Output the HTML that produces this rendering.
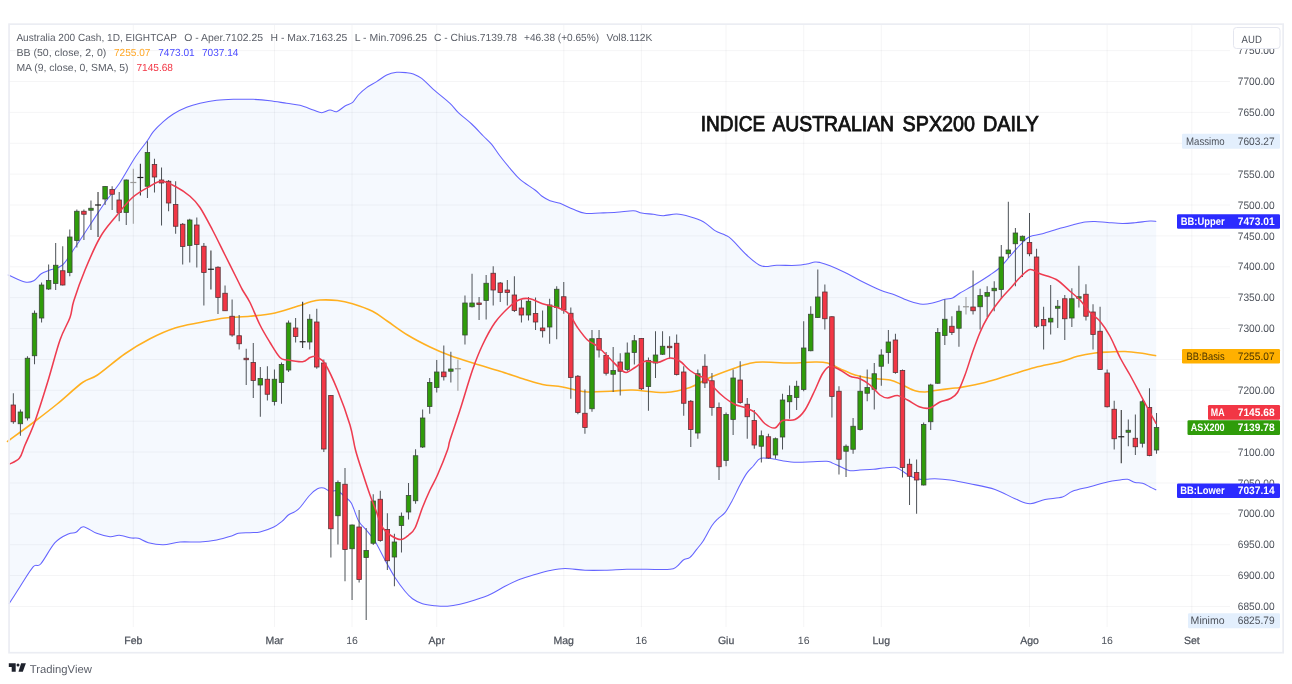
<!DOCTYPE html>
<html><head><meta charset="utf-8"><title>Chart</title>
<style>html,body{margin:0;padding:0;background:#fff}svg{display:block;will-change:transform}text{text-rendering:geometricPrecision}</style></head>
<body>
<svg width="1292" height="684" viewBox="0 0 1292 684" font-family='"Liberation Sans", sans-serif'>
<rect width="1292" height="684" fill="#fff"/>
<path d="M9.20,275.37 C9.25,275.40 6.87,274.40 9.50,275.50 C12.13,276.60 20.96,281.12 25.00,282.00 C29.04,282.88 31.04,282.12 33.75,280.75 C36.46,279.38 38.54,275.54 41.25,273.75 C43.96,271.96 46.46,271.46 50.00,270.00 C53.54,268.54 58.33,268.75 62.50,265.00 C66.67,261.25 70.42,254.17 75.00,247.50 C79.58,240.83 85.00,232.50 90.00,225.00 C95.00,217.50 100.00,209.58 105.00,202.50 C110.00,195.42 115.00,190.00 120.00,182.50 C125.00,175.00 130.42,164.50 135.00,157.50 C139.58,150.50 144.44,144.81 147.50,140.50 C150.56,136.19 150.69,134.81 153.33,131.67 C155.97,128.53 160.00,124.61 163.33,121.67 C166.67,118.72 169.44,116.39 173.33,114.00 C177.22,111.61 182.22,109.11 186.67,107.33 C191.11,105.56 195.00,104.50 200.00,103.33 C205.00,102.17 211.11,101.00 216.67,100.33 C222.22,99.67 227.22,99.50 233.33,99.33 C239.44,99.17 247.22,99.11 253.33,99.33 C259.44,99.56 264.44,100.00 270.00,100.67 C275.56,101.33 281.67,102.56 286.67,103.33 C291.67,104.11 295.56,104.22 300.00,105.33 C304.44,106.44 309.72,108.78 313.33,110.00 C316.94,111.22 318.89,112.67 321.67,112.67 C324.44,112.67 327.50,110.17 330.00,110.00 C332.50,109.83 334.17,112.33 336.67,111.67 C339.17,111.00 342.33,107.56 345.00,106.00 C347.67,104.44 350.44,104.17 352.67,102.33 C354.89,100.50 356.00,97.44 358.33,95.00 C360.67,92.56 363.61,89.89 366.67,87.67 C369.72,85.44 373.33,83.78 376.67,81.67 C380.00,79.56 383.33,76.56 386.67,75.00 C390.00,73.44 393.33,72.72 396.67,72.33 C400.00,71.94 403.89,72.39 406.67,72.67 C409.44,72.94 410.83,73.06 413.33,74.00 C415.83,74.94 418.33,75.78 421.67,78.33 C425.00,80.89 428.61,85.17 433.33,89.33 C438.06,93.50 445.83,99.44 450.00,103.33 C454.17,107.22 454.72,109.22 458.33,112.67 C461.94,116.11 467.50,120.11 471.67,124.00 C475.83,127.89 480.00,132.61 483.33,136.00 C486.67,139.39 488.89,141.00 491.67,144.33 C494.44,147.67 496.94,152.00 500.00,156.00 C503.06,160.00 506.67,164.44 510.00,168.33 C513.33,172.22 515.83,175.72 520.00,179.33 C524.17,182.94 531.39,187.22 535.00,190.00 C538.61,192.78 539.17,194.22 541.67,196.00 C544.17,197.78 546.94,199.44 550.00,200.67 C553.06,201.89 556.11,201.89 560.00,203.33 C563.89,204.78 569.17,207.67 573.33,209.33 C577.50,211.00 580.56,212.72 585.00,213.33 C589.44,213.94 594.72,213.17 600.00,213.00 C605.28,212.83 611.11,212.72 616.67,212.33 C622.22,211.94 629.17,210.56 633.33,210.67 C637.50,210.78 638.33,212.39 641.67,213.00 C645.00,213.61 649.72,213.89 653.33,214.33 C656.94,214.78 659.44,215.72 663.33,215.67 C667.22,215.61 672.22,213.83 676.67,214.00 C681.11,214.17 685.56,215.39 690.00,216.67 C694.44,217.94 699.17,219.33 703.33,221.67 C707.50,224.00 711.39,228.44 715.00,230.67 C718.61,232.89 722.22,233.56 725.00,235.00 C727.78,236.44 728.06,236.00 731.67,239.33 C735.28,242.67 741.67,250.56 746.67,255.00 C751.67,259.44 756.67,264.28 761.67,266.00 C766.67,267.72 770.83,265.44 776.67,265.33 C782.50,265.22 791.67,265.56 796.67,265.33 C801.67,265.11 803.61,264.56 806.67,264.00 C809.72,263.44 812.78,262.25 815.00,262.00 C817.22,261.75 817.50,261.88 820.00,262.50 C822.50,263.12 825.83,264.08 830.00,265.75 C834.17,267.42 840.00,270.04 845.00,272.50 C850.00,274.96 854.17,277.58 860.00,280.50 C865.83,283.42 874.17,287.58 880.00,290.00 C885.83,292.42 890.00,293.12 895.00,295.00 C900.00,296.88 905.42,299.71 910.00,301.25 C914.58,302.79 918.75,303.96 922.50,304.25 C926.25,304.54 928.75,303.83 932.50,303.00 C936.25,302.17 941.67,300.08 945.00,299.25 C948.33,298.42 950.00,299.04 952.50,298.00 C955.00,296.96 956.25,295.25 960.00,293.00 C963.75,290.75 970.00,287.50 975.00,284.50 C980.00,281.50 985.83,277.83 990.00,275.00 C994.17,272.17 996.67,270.62 1000.00,267.50 C1003.33,264.38 1006.67,260.00 1010.00,256.25 C1013.33,252.50 1016.75,248.25 1020.00,245.00 C1023.25,241.75 1025.75,238.62 1029.50,236.75 C1033.25,234.88 1037.42,235.17 1042.50,233.75 C1047.58,232.33 1055.00,229.71 1060.00,228.25 C1065.00,226.79 1068.33,226.04 1072.50,225.00 C1076.67,223.96 1081.25,222.58 1085.00,222.00 C1088.75,221.42 1091.25,221.42 1095.00,221.50 C1098.75,221.58 1102.92,222.17 1107.50,222.50 C1112.08,222.83 1117.92,223.46 1122.50,223.50 C1127.08,223.54 1130.42,223.17 1135.00,222.75 C1139.58,222.33 1146.46,221.21 1150.00,221.00 C1153.54,220.79 1155.21,221.42 1156.25,221.50 L1156.25,490.00 C1155.21,489.50 1152.29,488.12 1150.00,487.00 C1147.71,485.88 1145.00,484.00 1142.50,483.25 C1140.00,482.50 1137.50,483.17 1135.00,482.50 C1132.50,481.83 1130.00,479.67 1127.50,479.25 C1125.00,478.83 1123.33,479.54 1120.00,480.00 C1116.67,480.46 1112.50,480.88 1107.50,482.00 C1102.50,483.12 1095.83,485.21 1090.00,486.75 C1084.17,488.29 1077.08,489.54 1072.50,491.25 C1067.92,492.96 1067.08,495.62 1062.50,497.00 C1057.92,498.38 1050.42,498.38 1045.00,499.50 C1039.58,500.62 1035.00,503.88 1030.00,503.75 C1025.00,503.62 1020.83,501.12 1015.00,498.75 C1009.17,496.38 1002.50,492.00 995.00,489.50 C987.50,487.00 977.50,485.33 970.00,483.75 C962.50,482.17 955.83,480.83 950.00,480.00 C944.17,479.17 938.89,478.86 935.00,478.75 C931.11,478.64 929.17,479.24 926.67,479.33 C924.17,479.43 922.78,479.89 920.00,479.33 C917.22,478.78 913.06,477.44 910.00,476.00 C906.94,474.56 904.17,472.11 901.67,470.67 C899.17,469.22 898.06,467.78 895.00,467.33 C891.94,466.89 886.94,467.67 883.33,468.00 C879.72,468.33 877.22,469.00 873.33,469.33 C869.44,469.67 863.89,469.78 860.00,470.00 C856.11,470.22 853.06,471.11 850.00,470.67 C846.94,470.22 844.72,468.67 841.67,467.33 C838.61,466.00 834.17,463.67 831.67,462.67 C829.17,461.67 829.72,461.50 826.67,461.33 C823.61,461.17 818.33,461.50 813.33,461.67 C808.33,461.83 801.67,462.44 796.67,462.33 C791.67,462.22 787.22,461.56 783.33,461.00 C779.44,460.44 777.11,459.44 773.33,459.00 C769.56,458.56 764.00,457.17 760.67,458.33 C757.33,459.50 755.67,463.50 753.33,466.00 C751.00,468.50 748.89,470.17 746.67,473.33 C744.44,476.50 742.50,480.28 740.00,485.00 C737.50,489.72 734.17,497.06 731.67,501.67 C729.17,506.28 727.22,509.89 725.00,512.67 C722.78,515.44 720.56,516.11 718.33,518.33 C716.11,520.56 714.17,522.28 711.67,526.00 C709.17,529.72 705.83,536.78 703.33,540.67 C700.83,544.56 698.89,546.56 696.67,549.33 C694.44,552.11 692.22,555.56 690.00,557.33 C687.78,559.11 685.56,558.44 683.33,560.00 C681.11,561.56 678.89,565.11 676.67,566.67 C674.44,568.22 675.00,568.89 670.00,569.33 C665.00,569.78 653.89,569.33 646.67,569.33 C639.44,569.33 633.61,569.18 626.67,569.33 C619.72,569.49 611.94,570.10 605.00,570.25 C598.06,570.40 591.67,570.54 585.00,570.25 C578.33,569.96 570.83,568.46 565.00,568.50 C559.17,568.54 555.00,569.50 550.00,570.50 C545.00,571.50 540.00,573.04 535.00,574.50 C530.00,575.96 525.00,577.29 520.00,579.25 C515.00,581.21 510.00,583.71 505.00,586.25 C500.00,588.79 495.00,592.21 490.00,594.50 C485.00,596.79 480.00,598.38 475.00,600.00 C470.00,601.62 464.58,603.21 460.00,604.25 C455.42,605.29 451.67,606.00 447.50,606.25 C443.33,606.50 439.17,606.17 435.00,605.75 C430.83,605.33 426.25,604.92 422.50,603.75 C418.75,602.58 415.42,600.83 412.50,598.75 C409.58,596.67 407.92,594.79 405.00,591.25 C402.08,587.71 398.33,582.71 395.00,577.50 C391.67,572.29 388.33,566.04 385.00,560.00 C381.67,553.96 378.12,546.25 375.00,541.25 C371.88,536.25 368.96,533.33 366.25,530.00 C363.54,526.67 361.25,525.75 358.75,521.25 C356.25,516.75 353.54,507.04 351.25,503.00 C348.96,498.96 347.29,499.04 345.00,497.00 C342.71,494.96 340.00,491.71 337.50,490.75 C335.00,489.79 332.29,491.71 330.00,491.25 C327.71,490.79 325.83,488.42 323.75,488.00 C321.67,487.58 319.79,487.58 317.50,488.75 C315.21,489.92 312.92,491.88 310.00,495.00 C307.08,498.12 302.50,504.72 300.00,507.50 C297.50,510.28 296.94,510.42 295.00,511.67 C293.06,512.92 290.56,513.33 288.33,515.00 C286.11,516.67 284.17,519.61 281.67,521.67 C279.17,523.72 276.94,525.61 273.33,527.33 C269.72,529.06 263.89,531.11 260.00,532.00 C256.11,532.89 253.61,532.44 250.00,532.67 C246.39,532.89 241.39,532.78 238.33,533.33 C235.28,533.89 235.28,534.89 231.67,536.00 C228.06,537.11 221.94,539.00 216.67,540.00 C211.39,541.00 206.11,541.67 200.00,542.00 C193.89,542.33 186.11,541.56 180.00,542.00 C173.89,542.44 168.61,544.56 163.33,544.67 C158.06,544.78 152.50,543.72 148.33,542.67 C144.17,541.61 141.11,539.11 138.33,538.33 C135.56,537.56 134.83,538.50 131.67,538.00 C128.50,537.50 122.94,535.56 119.33,535.33 C115.72,535.11 113.78,537.00 110.00,536.67 C106.22,536.33 101.11,535.00 96.67,533.33 C92.22,531.67 86.78,526.83 83.33,526.67 C79.89,526.50 78.50,531.11 76.00,532.33 C73.50,533.56 71.83,532.28 68.33,534.00 C64.83,535.72 59.61,537.67 55.00,542.67 C50.39,547.67 44.28,560.00 40.67,564.00 C37.06,568.00 36.78,562.89 33.33,566.67 C29.89,570.44 24.06,580.44 20.00,586.67 C15.94,592.89 10.83,601.11 9.00,604.00 Z" fill="#f5f9fe"/>
<rect x="132.80" y="24.5" width="1" height="602.5" fill="#2a2e39" fill-opacity="0.048"/>
<rect x="273.94" y="24.5" width="1" height="602.5" fill="#2a2e39" fill-opacity="0.048"/>
<rect x="351.56" y="24.5" width="1" height="602.5" fill="#2a2e39" fill-opacity="0.048"/>
<rect x="436.24" y="24.5" width="1" height="602.5" fill="#2a2e39" fill-opacity="0.048"/>
<rect x="563.26" y="24.5" width="1" height="602.5" fill="#2a2e39" fill-opacity="0.048"/>
<rect x="640.89" y="24.5" width="1" height="602.5" fill="#2a2e39" fill-opacity="0.048"/>
<rect x="725.57" y="24.5" width="1" height="602.5" fill="#2a2e39" fill-opacity="0.048"/>
<rect x="803.19" y="24.5" width="1" height="602.5" fill="#2a2e39" fill-opacity="0.048"/>
<rect x="880.81" y="24.5" width="1" height="602.5" fill="#2a2e39" fill-opacity="0.048"/>
<rect x="1029.00" y="24.5" width="1" height="602.5" fill="#2a2e39" fill-opacity="0.048"/>
<rect x="1106.63" y="24.5" width="1" height="602.5" fill="#2a2e39" fill-opacity="0.048"/>
<rect x="1191.31" y="24.5" width="1" height="602.5" fill="#2a2e39" fill-opacity="0.048"/>
<rect x="8.5" y="50.12" width="1221.5" height="1" fill="#2a2e39" fill-opacity="0.048"/>
<rect x="8.5" y="81.00" width="1221.5" height="1" fill="#2a2e39" fill-opacity="0.048"/>
<rect x="8.5" y="111.88" width="1221.5" height="1" fill="#2a2e39" fill-opacity="0.048"/>
<rect x="8.5" y="142.76" width="1221.5" height="1" fill="#2a2e39" fill-opacity="0.048"/>
<rect x="8.5" y="173.64" width="1221.5" height="1" fill="#2a2e39" fill-opacity="0.048"/>
<rect x="8.5" y="204.52" width="1221.5" height="1" fill="#2a2e39" fill-opacity="0.048"/>
<rect x="8.5" y="235.40" width="1221.5" height="1" fill="#2a2e39" fill-opacity="0.048"/>
<rect x="8.5" y="266.28" width="1221.5" height="1" fill="#2a2e39" fill-opacity="0.048"/>
<rect x="8.5" y="297.16" width="1221.5" height="1" fill="#2a2e39" fill-opacity="0.048"/>
<rect x="8.5" y="328.04" width="1221.5" height="1" fill="#2a2e39" fill-opacity="0.048"/>
<rect x="8.5" y="358.92" width="1221.5" height="1" fill="#2a2e39" fill-opacity="0.048"/>
<rect x="8.5" y="389.80" width="1221.5" height="1" fill="#2a2e39" fill-opacity="0.048"/>
<rect x="8.5" y="420.68" width="1221.5" height="1" fill="#2a2e39" fill-opacity="0.048"/>
<rect x="8.5" y="451.56" width="1221.5" height="1" fill="#2a2e39" fill-opacity="0.048"/>
<rect x="8.5" y="482.44" width="1221.5" height="1" fill="#2a2e39" fill-opacity="0.048"/>
<rect x="8.5" y="513.32" width="1221.5" height="1" fill="#2a2e39" fill-opacity="0.048"/>
<rect x="8.5" y="544.20" width="1221.5" height="1" fill="#2a2e39" fill-opacity="0.048"/>
<rect x="8.5" y="575.08" width="1221.5" height="1" fill="#2a2e39" fill-opacity="0.048"/>
<rect x="8.5" y="605.96" width="1221.5" height="1" fill="#2a2e39" fill-opacity="0.048"/>
<path d="M9.20,275.37 C9.25,275.40 6.87,274.40 9.50,275.50 C12.13,276.60 20.96,281.12 25.00,282.00 C29.04,282.88 31.04,282.12 33.75,280.75 C36.46,279.38 38.54,275.54 41.25,273.75 C43.96,271.96 46.46,271.46 50.00,270.00 C53.54,268.54 58.33,268.75 62.50,265.00 C66.67,261.25 70.42,254.17 75.00,247.50 C79.58,240.83 85.00,232.50 90.00,225.00 C95.00,217.50 100.00,209.58 105.00,202.50 C110.00,195.42 115.00,190.00 120.00,182.50 C125.00,175.00 130.42,164.50 135.00,157.50 C139.58,150.50 144.44,144.81 147.50,140.50 C150.56,136.19 150.69,134.81 153.33,131.67 C155.97,128.53 160.00,124.61 163.33,121.67 C166.67,118.72 169.44,116.39 173.33,114.00 C177.22,111.61 182.22,109.11 186.67,107.33 C191.11,105.56 195.00,104.50 200.00,103.33 C205.00,102.17 211.11,101.00 216.67,100.33 C222.22,99.67 227.22,99.50 233.33,99.33 C239.44,99.17 247.22,99.11 253.33,99.33 C259.44,99.56 264.44,100.00 270.00,100.67 C275.56,101.33 281.67,102.56 286.67,103.33 C291.67,104.11 295.56,104.22 300.00,105.33 C304.44,106.44 309.72,108.78 313.33,110.00 C316.94,111.22 318.89,112.67 321.67,112.67 C324.44,112.67 327.50,110.17 330.00,110.00 C332.50,109.83 334.17,112.33 336.67,111.67 C339.17,111.00 342.33,107.56 345.00,106.00 C347.67,104.44 350.44,104.17 352.67,102.33 C354.89,100.50 356.00,97.44 358.33,95.00 C360.67,92.56 363.61,89.89 366.67,87.67 C369.72,85.44 373.33,83.78 376.67,81.67 C380.00,79.56 383.33,76.56 386.67,75.00 C390.00,73.44 393.33,72.72 396.67,72.33 C400.00,71.94 403.89,72.39 406.67,72.67 C409.44,72.94 410.83,73.06 413.33,74.00 C415.83,74.94 418.33,75.78 421.67,78.33 C425.00,80.89 428.61,85.17 433.33,89.33 C438.06,93.50 445.83,99.44 450.00,103.33 C454.17,107.22 454.72,109.22 458.33,112.67 C461.94,116.11 467.50,120.11 471.67,124.00 C475.83,127.89 480.00,132.61 483.33,136.00 C486.67,139.39 488.89,141.00 491.67,144.33 C494.44,147.67 496.94,152.00 500.00,156.00 C503.06,160.00 506.67,164.44 510.00,168.33 C513.33,172.22 515.83,175.72 520.00,179.33 C524.17,182.94 531.39,187.22 535.00,190.00 C538.61,192.78 539.17,194.22 541.67,196.00 C544.17,197.78 546.94,199.44 550.00,200.67 C553.06,201.89 556.11,201.89 560.00,203.33 C563.89,204.78 569.17,207.67 573.33,209.33 C577.50,211.00 580.56,212.72 585.00,213.33 C589.44,213.94 594.72,213.17 600.00,213.00 C605.28,212.83 611.11,212.72 616.67,212.33 C622.22,211.94 629.17,210.56 633.33,210.67 C637.50,210.78 638.33,212.39 641.67,213.00 C645.00,213.61 649.72,213.89 653.33,214.33 C656.94,214.78 659.44,215.72 663.33,215.67 C667.22,215.61 672.22,213.83 676.67,214.00 C681.11,214.17 685.56,215.39 690.00,216.67 C694.44,217.94 699.17,219.33 703.33,221.67 C707.50,224.00 711.39,228.44 715.00,230.67 C718.61,232.89 722.22,233.56 725.00,235.00 C727.78,236.44 728.06,236.00 731.67,239.33 C735.28,242.67 741.67,250.56 746.67,255.00 C751.67,259.44 756.67,264.28 761.67,266.00 C766.67,267.72 770.83,265.44 776.67,265.33 C782.50,265.22 791.67,265.56 796.67,265.33 C801.67,265.11 803.61,264.56 806.67,264.00 C809.72,263.44 812.78,262.25 815.00,262.00 C817.22,261.75 817.50,261.88 820.00,262.50 C822.50,263.12 825.83,264.08 830.00,265.75 C834.17,267.42 840.00,270.04 845.00,272.50 C850.00,274.96 854.17,277.58 860.00,280.50 C865.83,283.42 874.17,287.58 880.00,290.00 C885.83,292.42 890.00,293.12 895.00,295.00 C900.00,296.88 905.42,299.71 910.00,301.25 C914.58,302.79 918.75,303.96 922.50,304.25 C926.25,304.54 928.75,303.83 932.50,303.00 C936.25,302.17 941.67,300.08 945.00,299.25 C948.33,298.42 950.00,299.04 952.50,298.00 C955.00,296.96 956.25,295.25 960.00,293.00 C963.75,290.75 970.00,287.50 975.00,284.50 C980.00,281.50 985.83,277.83 990.00,275.00 C994.17,272.17 996.67,270.62 1000.00,267.50 C1003.33,264.38 1006.67,260.00 1010.00,256.25 C1013.33,252.50 1016.75,248.25 1020.00,245.00 C1023.25,241.75 1025.75,238.62 1029.50,236.75 C1033.25,234.88 1037.42,235.17 1042.50,233.75 C1047.58,232.33 1055.00,229.71 1060.00,228.25 C1065.00,226.79 1068.33,226.04 1072.50,225.00 C1076.67,223.96 1081.25,222.58 1085.00,222.00 C1088.75,221.42 1091.25,221.42 1095.00,221.50 C1098.75,221.58 1102.92,222.17 1107.50,222.50 C1112.08,222.83 1117.92,223.46 1122.50,223.50 C1127.08,223.54 1130.42,223.17 1135.00,222.75 C1139.58,222.33 1146.46,221.21 1150.00,221.00 C1153.54,220.79 1155.21,221.42 1156.25,221.50" fill="none" stroke="#6464ff" stroke-width="1.05" stroke-linejoin="round"/>
<path d="M9.00,604.00 C10.83,601.11 15.94,592.89 20.00,586.67 C24.06,580.44 29.89,570.44 33.33,566.67 C36.78,562.89 37.06,568.00 40.67,564.00 C44.28,560.00 50.39,547.67 55.00,542.67 C59.61,537.67 64.83,535.72 68.33,534.00 C71.83,532.28 73.50,533.56 76.00,532.33 C78.50,531.11 79.89,526.50 83.33,526.67 C86.78,526.83 92.22,531.67 96.67,533.33 C101.11,535.00 106.22,536.33 110.00,536.67 C113.78,537.00 115.72,535.11 119.33,535.33 C122.94,535.56 128.50,537.50 131.67,538.00 C134.83,538.50 135.56,537.56 138.33,538.33 C141.11,539.11 144.17,541.61 148.33,542.67 C152.50,543.72 158.06,544.78 163.33,544.67 C168.61,544.56 173.89,542.44 180.00,542.00 C186.11,541.56 193.89,542.33 200.00,542.00 C206.11,541.67 211.39,541.00 216.67,540.00 C221.94,539.00 228.06,537.11 231.67,536.00 C235.28,534.89 235.28,533.89 238.33,533.33 C241.39,532.78 246.39,532.89 250.00,532.67 C253.61,532.44 256.11,532.89 260.00,532.00 C263.89,531.11 269.72,529.06 273.33,527.33 C276.94,525.61 279.17,523.72 281.67,521.67 C284.17,519.61 286.11,516.67 288.33,515.00 C290.56,513.33 293.06,512.92 295.00,511.67 C296.94,510.42 297.50,510.28 300.00,507.50 C302.50,504.72 307.08,498.12 310.00,495.00 C312.92,491.88 315.21,489.92 317.50,488.75 C319.79,487.58 321.67,487.58 323.75,488.00 C325.83,488.42 327.71,490.79 330.00,491.25 C332.29,491.71 335.00,489.79 337.50,490.75 C340.00,491.71 342.71,494.96 345.00,497.00 C347.29,499.04 348.96,498.96 351.25,503.00 C353.54,507.04 356.25,516.75 358.75,521.25 C361.25,525.75 363.54,526.67 366.25,530.00 C368.96,533.33 371.88,536.25 375.00,541.25 C378.12,546.25 381.67,553.96 385.00,560.00 C388.33,566.04 391.67,572.29 395.00,577.50 C398.33,582.71 402.08,587.71 405.00,591.25 C407.92,594.79 409.58,596.67 412.50,598.75 C415.42,600.83 418.75,602.58 422.50,603.75 C426.25,604.92 430.83,605.33 435.00,605.75 C439.17,606.17 443.33,606.50 447.50,606.25 C451.67,606.00 455.42,605.29 460.00,604.25 C464.58,603.21 470.00,601.62 475.00,600.00 C480.00,598.38 485.00,596.79 490.00,594.50 C495.00,592.21 500.00,588.79 505.00,586.25 C510.00,583.71 515.00,581.21 520.00,579.25 C525.00,577.29 530.00,575.96 535.00,574.50 C540.00,573.04 545.00,571.50 550.00,570.50 C555.00,569.50 559.17,568.54 565.00,568.50 C570.83,568.46 578.33,569.96 585.00,570.25 C591.67,570.54 598.06,570.40 605.00,570.25 C611.94,570.10 619.72,569.49 626.67,569.33 C633.61,569.18 639.44,569.33 646.67,569.33 C653.89,569.33 665.00,569.78 670.00,569.33 C675.00,568.89 674.44,568.22 676.67,566.67 C678.89,565.11 681.11,561.56 683.33,560.00 C685.56,558.44 687.78,559.11 690.00,557.33 C692.22,555.56 694.44,552.11 696.67,549.33 C698.89,546.56 700.83,544.56 703.33,540.67 C705.83,536.78 709.17,529.72 711.67,526.00 C714.17,522.28 716.11,520.56 718.33,518.33 C720.56,516.11 722.78,515.44 725.00,512.67 C727.22,509.89 729.17,506.28 731.67,501.67 C734.17,497.06 737.50,489.72 740.00,485.00 C742.50,480.28 744.44,476.50 746.67,473.33 C748.89,470.17 751.00,468.50 753.33,466.00 C755.67,463.50 757.33,459.50 760.67,458.33 C764.00,457.17 769.56,458.56 773.33,459.00 C777.11,459.44 779.44,460.44 783.33,461.00 C787.22,461.56 791.67,462.22 796.67,462.33 C801.67,462.44 808.33,461.83 813.33,461.67 C818.33,461.50 823.61,461.17 826.67,461.33 C829.72,461.50 829.17,461.67 831.67,462.67 C834.17,463.67 838.61,466.00 841.67,467.33 C844.72,468.67 846.94,470.22 850.00,470.67 C853.06,471.11 856.11,470.22 860.00,470.00 C863.89,469.78 869.44,469.67 873.33,469.33 C877.22,469.00 879.72,468.33 883.33,468.00 C886.94,467.67 891.94,466.89 895.00,467.33 C898.06,467.78 899.17,469.22 901.67,470.67 C904.17,472.11 906.94,474.56 910.00,476.00 C913.06,477.44 917.22,478.78 920.00,479.33 C922.78,479.89 924.17,479.43 926.67,479.33 C929.17,479.24 931.11,478.64 935.00,478.75 C938.89,478.86 944.17,479.17 950.00,480.00 C955.83,480.83 962.50,482.17 970.00,483.75 C977.50,485.33 987.50,487.00 995.00,489.50 C1002.50,492.00 1009.17,496.38 1015.00,498.75 C1020.83,501.12 1025.00,503.62 1030.00,503.75 C1035.00,503.88 1039.58,500.62 1045.00,499.50 C1050.42,498.38 1057.92,498.38 1062.50,497.00 C1067.08,495.62 1067.92,492.96 1072.50,491.25 C1077.08,489.54 1084.17,488.29 1090.00,486.75 C1095.83,485.21 1102.50,483.12 1107.50,482.00 C1112.50,480.88 1116.67,480.46 1120.00,480.00 C1123.33,479.54 1125.00,478.83 1127.50,479.25 C1130.00,479.67 1132.50,481.83 1135.00,482.50 C1137.50,483.17 1140.00,482.50 1142.50,483.25 C1145.00,484.00 1147.71,485.88 1150.00,487.00 C1152.29,488.12 1155.21,489.50 1156.25,490.00" fill="none" stroke="#6464ff" stroke-width="1.05" stroke-linejoin="round"/>
<path d="M9.20,440.22 C9.25,440.18 5.20,443.16 9.50,440.00 C13.80,436.84 27.00,427.29 35.00,421.25 C43.00,415.21 49.58,410.21 57.50,403.75 C65.42,397.29 75.83,387.29 82.50,382.50 C89.17,377.71 90.42,379.79 97.50,375.00 C104.58,370.21 116.25,359.79 125.00,353.75 C133.75,347.71 141.67,343.04 150.00,338.75 C158.33,334.46 166.67,330.71 175.00,328.00 C183.33,325.29 191.67,324.17 200.00,322.50 C208.33,320.83 216.67,319.04 225.00,318.00 C233.33,316.96 241.67,317.08 250.00,316.25 C258.33,315.42 266.67,314.79 275.00,313.00 C283.33,311.21 294.17,307.33 300.00,305.50 C305.83,303.67 306.67,302.92 310.00,302.00 C313.33,301.08 315.42,300.25 320.00,300.00 C324.58,299.75 332.08,299.88 337.50,300.50 C342.92,301.12 346.67,301.96 352.50,303.75 C358.33,305.54 366.67,308.33 372.50,311.25 C378.33,314.17 381.67,317.29 387.50,321.25 C393.33,325.21 400.42,330.71 407.50,335.00 C414.58,339.29 422.92,343.58 430.00,347.00 C437.08,350.42 442.50,352.71 450.00,355.50 C457.50,358.29 466.67,361.12 475.00,363.75 C483.33,366.38 491.67,368.62 500.00,371.25 C508.33,373.88 517.92,377.29 525.00,379.50 C532.08,381.71 536.25,383.25 542.50,384.50 C548.75,385.75 555.42,385.79 562.50,387.00 C569.58,388.21 577.08,391.04 585.00,391.75 C592.92,392.46 602.08,391.54 610.00,391.25 C617.92,390.96 623.33,389.79 632.50,390.00 C641.67,390.21 655.42,392.92 665.00,392.50 C674.58,392.08 682.50,390.00 690.00,387.50 C697.50,385.00 702.50,380.75 710.00,377.50 C717.50,374.25 728.33,370.38 735.00,368.00 C741.67,365.62 745.42,364.25 750.00,363.25 C754.58,362.25 755.83,362.04 762.50,362.00 C769.17,361.96 781.25,363.00 790.00,363.00 C798.75,363.00 808.75,362.00 815.00,362.00 C821.25,362.00 823.33,361.88 827.50,363.00 C831.67,364.12 835.42,366.75 840.00,368.75 C844.58,370.75 850.00,373.42 855.00,375.00 C860.00,376.58 864.17,377.42 870.00,378.25 C875.83,379.08 884.58,378.88 890.00,380.00 C895.42,381.12 898.33,383.21 902.50,385.00 C906.67,386.79 911.25,389.58 915.00,390.75 C918.75,391.92 921.67,392.04 925.00,392.00 C928.33,391.96 930.42,391.12 935.00,390.50 C939.58,389.88 948.33,388.75 952.50,388.25 C956.67,387.75 954.58,388.46 960.00,387.50 C965.42,386.54 976.67,384.58 985.00,382.50 C993.33,380.42 1001.67,377.50 1010.00,375.00 C1018.33,372.50 1026.67,369.67 1035.00,367.50 C1043.33,365.33 1052.92,363.88 1060.00,362.00 C1067.08,360.12 1071.67,357.75 1077.50,356.25 C1083.33,354.75 1089.58,353.71 1095.00,353.00 C1100.42,352.29 1105.00,352.25 1110.00,352.00 C1115.00,351.75 1120.00,351.33 1125.00,351.50 C1130.00,351.67 1134.79,352.29 1140.00,353.00 C1145.21,353.71 1153.54,355.29 1156.25,355.75" fill="none" stroke="#ffb020" stroke-width="1.6" stroke-linejoin="round"/>
<rect x="12.84" y="393.25" width="1" height="30.50" fill="#4d5257"/>
<rect x="11.09" y="405.00" width="4.5" height="16.75" fill="#f23645" stroke="#5a3438" stroke-width="0.8"/>
<rect x="19.90" y="409.50" width="1" height="26.25" fill="#4d5257"/>
<rect x="18.15" y="412.00" width="4.5" height="11.75" fill="#2f9c0a" stroke="#3c4a3a" stroke-width="0.8"/>
<rect x="26.95" y="356.25" width="1" height="64.25" fill="#4d5257"/>
<rect x="25.20" y="358.25" width="4.5" height="59.75" fill="#2f9c0a" stroke="#3c4a3a" stroke-width="0.8"/>
<rect x="34.01" y="310.50" width="1" height="53.75" fill="#4d5257"/>
<rect x="32.26" y="313.25" width="4.5" height="42.50" fill="#2f9c0a" stroke="#3c4a3a" stroke-width="0.8"/>
<rect x="41.07" y="282.50" width="1" height="40.00" fill="#4d5257"/>
<rect x="39.32" y="285.00" width="4.5" height="33.00" fill="#2f9c0a" stroke="#3c4a3a" stroke-width="0.8"/>
<rect x="48.12" y="264.50" width="1" height="25.50" fill="#4d5257"/>
<rect x="46.37" y="280.50" width="4.5" height="8.50" fill="#2f9c0a" stroke="#3c4a3a" stroke-width="0.8"/>
<rect x="55.18" y="243.00" width="1" height="47.00" fill="#4d5257"/>
<rect x="53.43" y="265.25" width="4.5" height="18.25" fill="#2f9c0a" stroke="#3c4a3a" stroke-width="0.8"/>
<rect x="62.24" y="246.25" width="1" height="39.25" fill="#4d5257"/>
<rect x="60.49" y="270.75" width="4.5" height="14.25" fill="#f23645" stroke="#5a3438" stroke-width="0.8"/>
<rect x="69.29" y="229.50" width="1" height="46.75" fill="#4d5257"/>
<rect x="67.54" y="237.00" width="4.5" height="35.50" fill="#2f9c0a" stroke="#3c4a3a" stroke-width="0.8"/>
<rect x="76.35" y="209.50" width="1" height="38.00" fill="#4d5257"/>
<rect x="74.60" y="211.25" width="4.5" height="29.25" fill="#2f9c0a" stroke="#3c4a3a" stroke-width="0.8"/>
<rect x="83.41" y="209.50" width="1" height="30.50" fill="#4d5257"/>
<rect x="81.66" y="211.25" width="4.5" height="3.00" fill="#f23645" stroke="#5a3438" stroke-width="0.8"/>
<rect x="90.46" y="200.50" width="1" height="29.50" fill="#4d5257"/>
<rect x="88.71" y="208.25" width="4.5" height="2.00" fill="#2f9c0a" stroke="#3c4a3a" stroke-width="0.8"/>
<rect x="97.52" y="192.00" width="1" height="45.00" fill="#222"/>
<rect x="95.02" y="204.40" width="6" height="1.2" fill="#222"/>
<rect x="104.58" y="186.00" width="1" height="19.00" fill="#4d5257"/>
<rect x="102.83" y="186.50" width="4.5" height="12.50" fill="#2f9c0a" stroke="#3c4a3a" stroke-width="0.8"/>
<rect x="111.63" y="186.25" width="1" height="23.75" fill="#4d5257"/>
<rect x="109.88" y="189.50" width="4.5" height="4.75" fill="#f23645" stroke="#5a3438" stroke-width="0.8"/>
<rect x="118.69" y="192.00" width="1" height="29.25" fill="#4d5257"/>
<rect x="116.94" y="200.00" width="4.5" height="12.50" fill="#f23645" stroke="#5a3438" stroke-width="0.8"/>
<rect x="125.75" y="179.50" width="1" height="45.50" fill="#4d5257"/>
<rect x="124.00" y="180.00" width="4.5" height="32.50" fill="#2f9c0a" stroke="#3c4a3a" stroke-width="0.8"/>
<rect x="132.80" y="168.75" width="1" height="55.00" fill="#999"/>
<rect x="130.30" y="181.90" width="6" height="1.2" fill="#999"/>
<rect x="139.86" y="163.75" width="1" height="31.75" fill="#222"/>
<rect x="137.36" y="176.90" width="6" height="1.2" fill="#222"/>
<rect x="146.92" y="141.25" width="1" height="56.75" fill="#4d5257"/>
<rect x="145.17" y="152.50" width="4.5" height="33.75" fill="#2f9c0a" stroke="#3c4a3a" stroke-width="0.8"/>
<rect x="153.97" y="158.75" width="1" height="33.75" fill="#4d5257"/>
<rect x="152.22" y="164.50" width="4.5" height="12.50" fill="#f23645" stroke="#5a3438" stroke-width="0.8"/>
<rect x="161.03" y="167.50" width="1" height="58.00" fill="#4d5257"/>
<rect x="159.28" y="180.00" width="4.5" height="3.00" fill="#f23645" stroke="#5a3438" stroke-width="0.8"/>
<rect x="168.09" y="180.00" width="1" height="31.25" fill="#4d5257"/>
<rect x="166.34" y="181.25" width="4.5" height="21.75" fill="#f23645" stroke="#5a3438" stroke-width="0.8"/>
<rect x="175.14" y="181.25" width="1" height="52.50" fill="#4d5257"/>
<rect x="173.39" y="204.50" width="4.5" height="21.75" fill="#f23645" stroke="#5a3438" stroke-width="0.8"/>
<rect x="182.20" y="223.00" width="1" height="41.50" fill="#4d5257"/>
<rect x="180.45" y="224.25" width="4.5" height="22.25" fill="#f23645" stroke="#5a3438" stroke-width="0.8"/>
<rect x="189.26" y="218.75" width="1" height="43.75" fill="#4d5257"/>
<rect x="187.51" y="220.00" width="4.5" height="25.50" fill="#2f9c0a" stroke="#3c4a3a" stroke-width="0.8"/>
<rect x="196.31" y="217.50" width="1" height="50.00" fill="#4d5257"/>
<rect x="194.56" y="225.00" width="4.5" height="19.50" fill="#f23645" stroke="#5a3438" stroke-width="0.8"/>
<rect x="203.37" y="243.00" width="1" height="62.50" fill="#4d5257"/>
<rect x="201.62" y="246.25" width="4.5" height="26.25" fill="#f23645" stroke="#5a3438" stroke-width="0.8"/>
<rect x="210.43" y="250.50" width="1" height="39.00" fill="#222"/>
<rect x="207.93" y="268.65" width="6" height="1.2" fill="#222"/>
<rect x="217.48" y="266.25" width="1" height="47.75" fill="#4d5257"/>
<rect x="215.73" y="267.25" width="4.5" height="30.25" fill="#f23645" stroke="#5a3438" stroke-width="0.8"/>
<rect x="224.54" y="285.50" width="1" height="25.50" fill="#4d5257"/>
<rect x="222.79" y="293.25" width="4.5" height="17.50" fill="#f23645" stroke="#5a3438" stroke-width="0.8"/>
<rect x="231.60" y="299.50" width="1" height="37.25" fill="#4d5257"/>
<rect x="229.85" y="316.25" width="4.5" height="18.75" fill="#f23645" stroke="#5a3438" stroke-width="0.8"/>
<rect x="238.65" y="315.00" width="1" height="34.50" fill="#4d5257"/>
<rect x="236.90" y="335.75" width="4.5" height="8.00" fill="#f23645" stroke="#5a3438" stroke-width="0.8"/>
<rect x="245.71" y="348.75" width="1" height="36.25" fill="#4d5257"/>
<rect x="243.96" y="358.25" width="4.5" height="1.50" fill="#f23645" stroke="#5a3438" stroke-width="0.8"/>
<rect x="252.77" y="343.00" width="1" height="55.00" fill="#4d5257"/>
<rect x="251.02" y="362.50" width="4.5" height="18.00" fill="#f23645" stroke="#5a3438" stroke-width="0.8"/>
<rect x="259.82" y="367.00" width="1" height="49.75" fill="#4d5257"/>
<rect x="258.07" y="378.50" width="4.5" height="6.50" fill="#2f9c0a" stroke="#3c4a3a" stroke-width="0.8"/>
<rect x="266.88" y="366.25" width="1" height="34.25" fill="#4d5257"/>
<rect x="265.13" y="379.25" width="4.5" height="15.00" fill="#f23645" stroke="#5a3438" stroke-width="0.8"/>
<rect x="273.94" y="369.50" width="1" height="36.00" fill="#4d5257"/>
<rect x="272.19" y="379.25" width="4.5" height="22.25" fill="#2f9c0a" stroke="#3c4a3a" stroke-width="0.8"/>
<rect x="280.99" y="362.50" width="1" height="41.25" fill="#4d5257"/>
<rect x="279.24" y="364.50" width="4.5" height="18.00" fill="#2f9c0a" stroke="#3c4a3a" stroke-width="0.8"/>
<rect x="288.05" y="320.50" width="1" height="51.50" fill="#4d5257"/>
<rect x="286.30" y="323.00" width="4.5" height="47.00" fill="#2f9c0a" stroke="#3c4a3a" stroke-width="0.8"/>
<rect x="295.11" y="318.00" width="1" height="24.50" fill="#4d5257"/>
<rect x="293.36" y="328.00" width="4.5" height="8.50" fill="#f23645" stroke="#5a3438" stroke-width="0.8"/>
<rect x="302.16" y="301.75" width="1" height="46.25" fill="#222"/>
<rect x="299.66" y="341.15" width="6" height="1.2" fill="#222"/>
<rect x="309.22" y="314.25" width="1" height="35.25" fill="#4d5257"/>
<rect x="307.47" y="319.25" width="4.5" height="22.75" fill="#2f9c0a" stroke="#3c4a3a" stroke-width="0.8"/>
<rect x="316.28" y="308.75" width="1" height="60.00" fill="#4d5257"/>
<rect x="314.53" y="322.00" width="4.5" height="45.00" fill="#f23645" stroke="#5a3438" stroke-width="0.8"/>
<rect x="323.33" y="359.50" width="1" height="92.50" fill="#4d5257"/>
<rect x="321.58" y="363.00" width="4.5" height="86.00" fill="#f23645" stroke="#5a3438" stroke-width="0.8"/>
<rect x="330.39" y="395.00" width="1" height="162.50" fill="#4d5257"/>
<rect x="328.64" y="395.50" width="4.5" height="133.25" fill="#f23645" stroke="#5a3438" stroke-width="0.8"/>
<rect x="337.45" y="480.50" width="1" height="64.00" fill="#4d5257"/>
<rect x="335.70" y="482.50" width="4.5" height="33.25" fill="#2f9c0a" stroke="#3c4a3a" stroke-width="0.8"/>
<rect x="344.50" y="468.00" width="1" height="113.25" fill="#4d5257"/>
<rect x="342.75" y="484.25" width="4.5" height="65.25" fill="#f23645" stroke="#5a3438" stroke-width="0.8"/>
<rect x="351.56" y="524.50" width="1" height="75.50" fill="#4d5257"/>
<rect x="349.81" y="525.00" width="4.5" height="23.75" fill="#2f9c0a" stroke="#3c4a3a" stroke-width="0.8"/>
<rect x="358.62" y="510.00" width="1" height="72.50" fill="#4d5257"/>
<rect x="356.87" y="527.00" width="4.5" height="52.50" fill="#f23645" stroke="#5a3438" stroke-width="0.8"/>
<rect x="365.68" y="528.00" width="1" height="92.00" fill="#4d5257"/>
<rect x="363.93" y="550.50" width="4.5" height="7.00" fill="#2f9c0a" stroke="#3c4a3a" stroke-width="0.8"/>
<rect x="372.73" y="494.25" width="1" height="50.75" fill="#4d5257"/>
<rect x="370.98" y="501.00" width="4.5" height="42.25" fill="#2f9c0a" stroke="#3c4a3a" stroke-width="0.8"/>
<rect x="379.79" y="490.75" width="1" height="51.00" fill="#4d5257"/>
<rect x="378.04" y="499.25" width="4.5" height="41.25" fill="#f23645" stroke="#5a3438" stroke-width="0.8"/>
<rect x="386.85" y="513.25" width="1" height="56.75" fill="#4d5257"/>
<rect x="385.10" y="529.50" width="4.5" height="31.25" fill="#f23645" stroke="#5a3438" stroke-width="0.8"/>
<rect x="393.90" y="533.75" width="1" height="52.50" fill="#4d5257"/>
<rect x="392.15" y="542.00" width="4.5" height="15.00" fill="#2f9c0a" stroke="#3c4a3a" stroke-width="0.8"/>
<rect x="400.96" y="512.50" width="1" height="40.00" fill="#4d5257"/>
<rect x="399.21" y="516.25" width="4.5" height="9.25" fill="#2f9c0a" stroke="#3c4a3a" stroke-width="0.8"/>
<rect x="408.02" y="483.00" width="1" height="36.50" fill="#4d5257"/>
<rect x="406.27" y="495.50" width="4.5" height="16.50" fill="#2f9c0a" stroke="#3c4a3a" stroke-width="0.8"/>
<rect x="415.07" y="449.25" width="1" height="54.50" fill="#4d5257"/>
<rect x="413.32" y="455.75" width="4.5" height="45.00" fill="#2f9c0a" stroke="#3c4a3a" stroke-width="0.8"/>
<rect x="422.13" y="409.50" width="1" height="38.50" fill="#4d5257"/>
<rect x="420.38" y="418.00" width="4.5" height="29.00" fill="#2f9c0a" stroke="#3c4a3a" stroke-width="0.8"/>
<rect x="429.19" y="378.00" width="1" height="35.75" fill="#4d5257"/>
<rect x="427.44" y="382.50" width="4.5" height="24.00" fill="#2f9c0a" stroke="#3c4a3a" stroke-width="0.8"/>
<rect x="436.24" y="360.00" width="1" height="32.50" fill="#4d5257"/>
<rect x="434.49" y="372.00" width="4.5" height="15.50" fill="#2f9c0a" stroke="#3c4a3a" stroke-width="0.8"/>
<rect x="443.30" y="345.50" width="1" height="35.00" fill="#4d5257"/>
<rect x="441.55" y="372.00" width="4.5" height="4.75" fill="#f23645" stroke="#5a3438" stroke-width="0.8"/>
<rect x="450.36" y="351.75" width="1" height="30.75" fill="#4d5257"/>
<rect x="448.61" y="369.00" width="4.5" height="2.25" fill="#2f9c0a" stroke="#3c4a3a" stroke-width="0.8"/>
<rect x="457.41" y="359.50" width="1" height="31.25" fill="#999"/>
<rect x="454.91" y="368.15" width="6" height="1.2" fill="#999"/>
<rect x="464.47" y="295.50" width="1" height="49.00" fill="#4d5257"/>
<rect x="462.72" y="303.00" width="4.5" height="32.00" fill="#2f9c0a" stroke="#3c4a3a" stroke-width="0.8"/>
<rect x="471.53" y="273.75" width="1" height="33.75" fill="#4d5257"/>
<rect x="469.78" y="303.00" width="4.5" height="3.75" fill="#2f9c0a" stroke="#3c4a3a" stroke-width="0.8"/>
<rect x="478.58" y="297.00" width="1" height="23.00" fill="#4d5257"/>
<rect x="476.83" y="303.00" width="4.5" height="1.50" fill="#f23645" stroke="#5a3438" stroke-width="0.8"/>
<rect x="485.64" y="275.00" width="1" height="44.50" fill="#4d5257"/>
<rect x="483.89" y="283.25" width="4.5" height="17.25" fill="#2f9c0a" stroke="#3c4a3a" stroke-width="0.8"/>
<rect x="492.70" y="266.25" width="1" height="39.25" fill="#4d5257"/>
<rect x="490.95" y="273.25" width="4.5" height="16.75" fill="#f23645" stroke="#5a3438" stroke-width="0.8"/>
<rect x="499.75" y="282.00" width="1" height="20.00" fill="#4d5257"/>
<rect x="498.00" y="283.00" width="4.5" height="9.50" fill="#f23645" stroke="#5a3438" stroke-width="0.8"/>
<rect x="506.81" y="280.00" width="1" height="25.50" fill="#4d5257"/>
<rect x="505.06" y="290.00" width="4.5" height="2.50" fill="#f23645" stroke="#5a3438" stroke-width="0.8"/>
<rect x="513.87" y="276.25" width="1" height="35.75" fill="#4d5257"/>
<rect x="512.12" y="295.00" width="4.5" height="15.50" fill="#f23645" stroke="#5a3438" stroke-width="0.8"/>
<rect x="520.92" y="300.00" width="1" height="22.50" fill="#4d5257"/>
<rect x="519.17" y="308.00" width="4.5" height="7.00" fill="#f23645" stroke="#5a3438" stroke-width="0.8"/>
<rect x="527.98" y="297.00" width="1" height="23.50" fill="#4d5257"/>
<rect x="526.23" y="301.25" width="4.5" height="13.75" fill="#2f9c0a" stroke="#3c4a3a" stroke-width="0.8"/>
<rect x="535.04" y="297.50" width="1" height="32.50" fill="#4d5257"/>
<rect x="533.29" y="313.50" width="4.5" height="8.50" fill="#f23645" stroke="#5a3438" stroke-width="0.8"/>
<rect x="542.09" y="310.50" width="1" height="27.00" fill="#4d5257"/>
<rect x="540.34" y="328.00" width="4.5" height="2.75" fill="#f23645" stroke="#5a3438" stroke-width="0.8"/>
<rect x="549.15" y="298.75" width="1" height="45.00" fill="#4d5257"/>
<rect x="547.40" y="305.00" width="4.5" height="22.00" fill="#2f9c0a" stroke="#3c4a3a" stroke-width="0.8"/>
<rect x="556.21" y="286.25" width="1" height="53.00" fill="#4d5257"/>
<rect x="554.46" y="289.25" width="4.5" height="18.25" fill="#2f9c0a" stroke="#3c4a3a" stroke-width="0.8"/>
<rect x="563.26" y="282.00" width="1" height="31.75" fill="#4d5257"/>
<rect x="561.51" y="296.75" width="4.5" height="13.25" fill="#f23645" stroke="#5a3438" stroke-width="0.8"/>
<rect x="570.32" y="307.50" width="1" height="91.25" fill="#4d5257"/>
<rect x="568.57" y="313.25" width="4.5" height="64.25" fill="#f23645" stroke="#5a3438" stroke-width="0.8"/>
<rect x="577.38" y="375.00" width="1" height="39.25" fill="#4d5257"/>
<rect x="575.63" y="376.25" width="4.5" height="36.25" fill="#f23645" stroke="#5a3438" stroke-width="0.8"/>
<rect x="584.43" y="389.50" width="1" height="44.25" fill="#4d5257"/>
<rect x="582.68" y="413.25" width="4.5" height="14.25" fill="#f23645" stroke="#5a3438" stroke-width="0.8"/>
<rect x="591.49" y="330.00" width="1" height="81.75" fill="#4d5257"/>
<rect x="589.74" y="338.75" width="4.5" height="70.00" fill="#2f9c0a" stroke="#3c4a3a" stroke-width="0.8"/>
<rect x="598.55" y="330.00" width="1" height="27.50" fill="#4d5257"/>
<rect x="596.80" y="338.50" width="4.5" height="11.50" fill="#f23645" stroke="#5a3438" stroke-width="0.8"/>
<rect x="605.60" y="352.00" width="1" height="23.50" fill="#4d5257"/>
<rect x="603.85" y="355.50" width="4.5" height="17.75" fill="#f23645" stroke="#5a3438" stroke-width="0.8"/>
<rect x="612.66" y="347.00" width="1" height="45.00" fill="#4d5257"/>
<rect x="610.91" y="370.50" width="4.5" height="3.75" fill="#2f9c0a" stroke="#3c4a3a" stroke-width="0.8"/>
<rect x="619.72" y="353.25" width="1" height="42.25" fill="#4d5257"/>
<rect x="617.97" y="362.00" width="4.5" height="9.25" fill="#f23645" stroke="#5a3438" stroke-width="0.8"/>
<rect x="626.77" y="342.50" width="1" height="28.75" fill="#4d5257"/>
<rect x="625.02" y="353.00" width="4.5" height="16.50" fill="#2f9c0a" stroke="#3c4a3a" stroke-width="0.8"/>
<rect x="633.83" y="335.00" width="1" height="29.50" fill="#4d5257"/>
<rect x="632.08" y="340.75" width="4.5" height="11.75" fill="#2f9c0a" stroke="#3c4a3a" stroke-width="0.8"/>
<rect x="640.89" y="338.00" width="1" height="52.00" fill="#4d5257"/>
<rect x="639.14" y="338.50" width="4.5" height="50.25" fill="#f23645" stroke="#5a3438" stroke-width="0.8"/>
<rect x="647.94" y="357.50" width="1" height="53.25" fill="#4d5257"/>
<rect x="646.19" y="360.50" width="4.5" height="26.00" fill="#2f9c0a" stroke="#3c4a3a" stroke-width="0.8"/>
<rect x="655.00" y="331.25" width="1" height="46.75" fill="#4d5257"/>
<rect x="653.25" y="355.00" width="4.5" height="8.00" fill="#2f9c0a" stroke="#3c4a3a" stroke-width="0.8"/>
<rect x="662.06" y="331.25" width="1" height="23.75" fill="#4d5257"/>
<rect x="660.31" y="346.25" width="4.5" height="8.00" fill="#2f9c0a" stroke="#3c4a3a" stroke-width="0.8"/>
<rect x="669.11" y="336.25" width="1" height="22.50" fill="#4d5257"/>
<rect x="667.36" y="346.25" width="4.5" height="1.50" fill="#f23645" stroke="#5a3438" stroke-width="0.8"/>
<rect x="676.17" y="334.50" width="1" height="41.00" fill="#4d5257"/>
<rect x="674.42" y="343.25" width="4.5" height="31.25" fill="#f23645" stroke="#5a3438" stroke-width="0.8"/>
<rect x="683.23" y="366.25" width="1" height="49.50" fill="#4d5257"/>
<rect x="681.48" y="372.00" width="4.5" height="31.25" fill="#f23645" stroke="#5a3438" stroke-width="0.8"/>
<rect x="690.28" y="400.00" width="1" height="47.00" fill="#4d5257"/>
<rect x="688.53" y="401.25" width="4.5" height="28.25" fill="#f23645" stroke="#5a3438" stroke-width="0.8"/>
<rect x="697.34" y="369.50" width="1" height="69.25" fill="#4d5257"/>
<rect x="695.59" y="373.75" width="4.5" height="59.25" fill="#2f9c0a" stroke="#3c4a3a" stroke-width="0.8"/>
<rect x="704.40" y="354.25" width="1" height="33.75" fill="#4d5257"/>
<rect x="702.65" y="366.25" width="4.5" height="16.75" fill="#f23645" stroke="#5a3438" stroke-width="0.8"/>
<rect x="711.45" y="373.00" width="1" height="42.75" fill="#4d5257"/>
<rect x="709.70" y="380.75" width="4.5" height="26.75" fill="#f23645" stroke="#5a3438" stroke-width="0.8"/>
<rect x="718.51" y="402.50" width="1" height="77.50" fill="#4d5257"/>
<rect x="716.76" y="407.50" width="4.5" height="59.25" fill="#f23645" stroke="#5a3438" stroke-width="0.8"/>
<rect x="725.57" y="412.50" width="1" height="53.75" fill="#4d5257"/>
<rect x="723.82" y="414.50" width="4.5" height="46.00" fill="#2f9c0a" stroke="#3c4a3a" stroke-width="0.8"/>
<rect x="732.62" y="369.50" width="1" height="65.50" fill="#4d5257"/>
<rect x="730.87" y="378.00" width="4.5" height="41.50" fill="#2f9c0a" stroke="#3c4a3a" stroke-width="0.8"/>
<rect x="739.68" y="361.25" width="1" height="42.50" fill="#4d5257"/>
<rect x="737.93" y="380.00" width="4.5" height="22.50" fill="#f23645" stroke="#5a3438" stroke-width="0.8"/>
<rect x="746.74" y="398.00" width="1" height="40.75" fill="#4d5257"/>
<rect x="744.99" y="404.25" width="4.5" height="12.50" fill="#f23645" stroke="#5a3438" stroke-width="0.8"/>
<rect x="753.79" y="410.00" width="1" height="38.75" fill="#4d5257"/>
<rect x="752.04" y="420.50" width="4.5" height="24.50" fill="#f23645" stroke="#5a3438" stroke-width="0.8"/>
<rect x="760.85" y="430.50" width="1" height="32.00" fill="#4d5257"/>
<rect x="759.10" y="435.75" width="4.5" height="10.50" fill="#2f9c0a" stroke="#3c4a3a" stroke-width="0.8"/>
<rect x="767.91" y="433.75" width="1" height="25.00" fill="#4d5257"/>
<rect x="766.16" y="436.75" width="4.5" height="21.25" fill="#f23645" stroke="#5a3438" stroke-width="0.8"/>
<rect x="774.96" y="437.50" width="1" height="21.25" fill="#4d5257"/>
<rect x="773.21" y="438.75" width="4.5" height="16.25" fill="#2f9c0a" stroke="#3c4a3a" stroke-width="0.8"/>
<rect x="782.02" y="393.75" width="1" height="55.75" fill="#4d5257"/>
<rect x="780.27" y="400.00" width="4.5" height="37.00" fill="#2f9c0a" stroke="#3c4a3a" stroke-width="0.8"/>
<rect x="789.08" y="385.50" width="1" height="33.25" fill="#4d5257"/>
<rect x="787.33" y="395.50" width="4.5" height="6.25" fill="#2f9c0a" stroke="#3c4a3a" stroke-width="0.8"/>
<rect x="796.13" y="380.75" width="1" height="29.25" fill="#4d5257"/>
<rect x="794.38" y="386.25" width="4.5" height="11.25" fill="#2f9c0a" stroke="#3c4a3a" stroke-width="0.8"/>
<rect x="803.19" y="321.25" width="1" height="70.00" fill="#4d5257"/>
<rect x="801.44" y="348.00" width="4.5" height="41.50" fill="#2f9c0a" stroke="#3c4a3a" stroke-width="0.8"/>
<rect x="810.25" y="306.25" width="1" height="45.00" fill="#4d5257"/>
<rect x="808.50" y="314.25" width="4.5" height="36.50" fill="#2f9c0a" stroke="#3c4a3a" stroke-width="0.8"/>
<rect x="817.30" y="269.50" width="1" height="48.50" fill="#4d5257"/>
<rect x="815.55" y="297.00" width="4.5" height="20.50" fill="#2f9c0a" stroke="#3c4a3a" stroke-width="0.8"/>
<rect x="824.36" y="284.50" width="1" height="45.00" fill="#4d5257"/>
<rect x="822.61" y="292.00" width="4.5" height="26.75" fill="#f23645" stroke="#5a3438" stroke-width="0.8"/>
<rect x="831.42" y="316.25" width="1" height="101.25" fill="#4d5257"/>
<rect x="829.67" y="316.75" width="4.5" height="79.75" fill="#f23645" stroke="#5a3438" stroke-width="0.8"/>
<rect x="838.47" y="386.25" width="1" height="88.25" fill="#4d5257"/>
<rect x="836.72" y="391.25" width="4.5" height="68.00" fill="#f23645" stroke="#5a3438" stroke-width="0.8"/>
<rect x="845.53" y="444.50" width="1" height="32.50" fill="#4d5257"/>
<rect x="843.78" y="446.25" width="4.5" height="5.00" fill="#2f9c0a" stroke="#3c4a3a" stroke-width="0.8"/>
<rect x="852.59" y="418.00" width="1" height="35.75" fill="#4d5257"/>
<rect x="850.84" y="426.25" width="4.5" height="23.00" fill="#2f9c0a" stroke="#3c4a3a" stroke-width="0.8"/>
<rect x="859.64" y="375.50" width="1" height="55.00" fill="#4d5257"/>
<rect x="857.89" y="391.25" width="4.5" height="38.25" fill="#2f9c0a" stroke="#3c4a3a" stroke-width="0.8"/>
<rect x="866.70" y="369.50" width="1" height="31.75" fill="#4d5257"/>
<rect x="864.95" y="387.50" width="4.5" height="5.75" fill="#2f9c0a" stroke="#3c4a3a" stroke-width="0.8"/>
<rect x="873.76" y="363.00" width="1" height="46.50" fill="#4d5257"/>
<rect x="872.01" y="373.75" width="4.5" height="15.50" fill="#2f9c0a" stroke="#3c4a3a" stroke-width="0.8"/>
<rect x="880.81" y="349.25" width="1" height="36.50" fill="#4d5257"/>
<rect x="879.06" y="355.00" width="4.5" height="11.25" fill="#2f9c0a" stroke="#3c4a3a" stroke-width="0.8"/>
<rect x="887.87" y="330.00" width="1" height="33.75" fill="#4d5257"/>
<rect x="886.12" y="342.00" width="4.5" height="10.50" fill="#2f9c0a" stroke="#3c4a3a" stroke-width="0.8"/>
<rect x="894.93" y="333.75" width="1" height="40.00" fill="#4d5257"/>
<rect x="893.18" y="340.00" width="4.5" height="32.50" fill="#f23645" stroke="#5a3438" stroke-width="0.8"/>
<rect x="901.98" y="369.50" width="1" height="108.00" fill="#4d5257"/>
<rect x="900.23" y="370.50" width="4.5" height="97.00" fill="#f23645" stroke="#5a3438" stroke-width="0.8"/>
<rect x="909.04" y="458.75" width="1" height="46.25" fill="#4d5257"/>
<rect x="907.29" y="464.25" width="4.5" height="12.00" fill="#f23645" stroke="#5a3438" stroke-width="0.8"/>
<rect x="916.10" y="459.50" width="1" height="54.25" fill="#4d5257"/>
<rect x="914.35" y="472.50" width="4.5" height="7.50" fill="#f23645" stroke="#5a3438" stroke-width="0.8"/>
<rect x="923.15" y="422.50" width="1" height="63.00" fill="#4d5257"/>
<rect x="921.40" y="424.50" width="4.5" height="60.50" fill="#2f9c0a" stroke="#3c4a3a" stroke-width="0.8"/>
<rect x="930.21" y="383.75" width="1" height="46.25" fill="#4d5257"/>
<rect x="928.46" y="385.00" width="4.5" height="36.75" fill="#2f9c0a" stroke="#3c4a3a" stroke-width="0.8"/>
<rect x="937.27" y="328.00" width="1" height="55.75" fill="#4d5257"/>
<rect x="935.52" y="332.50" width="4.5" height="50.75" fill="#2f9c0a" stroke="#3c4a3a" stroke-width="0.8"/>
<rect x="944.32" y="299.50" width="1" height="45.50" fill="#4d5257"/>
<rect x="942.57" y="319.25" width="4.5" height="16.25" fill="#2f9c0a" stroke="#3c4a3a" stroke-width="0.8"/>
<rect x="951.38" y="316.25" width="1" height="18.75" fill="#4d5257"/>
<rect x="949.63" y="326.25" width="4.5" height="6.25" fill="#f23645" stroke="#5a3438" stroke-width="0.8"/>
<rect x="958.44" y="305.50" width="1" height="41.25" fill="#4d5257"/>
<rect x="956.69" y="311.25" width="4.5" height="17.00" fill="#2f9c0a" stroke="#3c4a3a" stroke-width="0.8"/>
<rect x="965.49" y="297.00" width="1" height="17.50" fill="#999"/>
<rect x="962.99" y="306.15" width="6" height="1.2" fill="#999"/>
<rect x="972.55" y="270.50" width="1" height="44.00" fill="#4d5257"/>
<rect x="970.80" y="307.00" width="4.5" height="3.75" fill="#f23645" stroke="#5a3438" stroke-width="0.8"/>
<rect x="979.61" y="288.75" width="1" height="40.75" fill="#4d5257"/>
<rect x="977.86" y="295.50" width="4.5" height="11.25" fill="#2f9c0a" stroke="#3c4a3a" stroke-width="0.8"/>
<rect x="986.66" y="286.25" width="1" height="30.75" fill="#4d5257"/>
<rect x="984.91" y="292.50" width="4.5" height="3.75" fill="#2f9c0a" stroke="#3c4a3a" stroke-width="0.8"/>
<rect x="993.72" y="281.25" width="1" height="30.00" fill="#4d5257"/>
<rect x="991.97" y="288.25" width="4.5" height="2.50" fill="#2f9c0a" stroke="#3c4a3a" stroke-width="0.8"/>
<rect x="1000.78" y="245.00" width="1" height="53.75" fill="#4d5257"/>
<rect x="999.03" y="257.00" width="4.5" height="32.50" fill="#2f9c0a" stroke="#3c4a3a" stroke-width="0.8"/>
<rect x="1007.83" y="201.75" width="1" height="56.25" fill="#4d5257"/>
<rect x="1006.08" y="250.00" width="4.5" height="3.75" fill="#2f9c0a" stroke="#3c4a3a" stroke-width="0.8"/>
<rect x="1014.89" y="228.00" width="1" height="58.25" fill="#4d5257"/>
<rect x="1013.14" y="233.00" width="4.5" height="10.75" fill="#2f9c0a" stroke="#3c4a3a" stroke-width="0.8"/>
<rect x="1021.95" y="235.50" width="1" height="41.50" fill="#4d5257"/>
<rect x="1020.20" y="236.25" width="4.5" height="4.50" fill="#2f9c0a" stroke="#3c4a3a" stroke-width="0.8"/>
<rect x="1029.00" y="213.00" width="1" height="43.25" fill="#4d5257"/>
<rect x="1027.25" y="242.50" width="4.5" height="11.25" fill="#f23645" stroke="#5a3438" stroke-width="0.8"/>
<rect x="1036.06" y="248.75" width="1" height="79.25" fill="#4d5257"/>
<rect x="1034.31" y="257.00" width="4.5" height="69.25" fill="#f23645" stroke="#5a3438" stroke-width="0.8"/>
<rect x="1043.12" y="306.75" width="1" height="42.75" fill="#4d5257"/>
<rect x="1041.37" y="319.50" width="4.5" height="6.25" fill="#f23645" stroke="#5a3438" stroke-width="0.8"/>
<rect x="1050.17" y="285.00" width="1" height="49.50" fill="#4d5257"/>
<rect x="1048.42" y="318.25" width="4.5" height="3.75" fill="#2f9c0a" stroke="#3c4a3a" stroke-width="0.8"/>
<rect x="1057.23" y="300.00" width="1" height="28.00" fill="#4d5257"/>
<rect x="1055.48" y="306.25" width="4.5" height="2.00" fill="#2f9c0a" stroke="#3c4a3a" stroke-width="0.8"/>
<rect x="1064.29" y="295.00" width="1" height="45.00" fill="#4d5257"/>
<rect x="1062.54" y="298.75" width="4.5" height="20.00" fill="#f23645" stroke="#5a3438" stroke-width="0.8"/>
<rect x="1071.35" y="288.25" width="1" height="38.75" fill="#4d5257"/>
<rect x="1069.60" y="298.75" width="4.5" height="19.25" fill="#2f9c0a" stroke="#3c4a3a" stroke-width="0.8"/>
<rect x="1078.40" y="265.75" width="1" height="41.75" fill="#4d5257"/>
<rect x="1076.65" y="296.75" width="4.5" height="1.50" fill="#2f9c0a" stroke="#3c4a3a" stroke-width="0.8"/>
<rect x="1085.46" y="284.25" width="1" height="36.25" fill="#4d5257"/>
<rect x="1083.71" y="294.25" width="4.5" height="22.00" fill="#f23645" stroke="#5a3438" stroke-width="0.8"/>
<rect x="1092.52" y="304.25" width="1" height="45.25" fill="#4d5257"/>
<rect x="1090.77" y="312.00" width="4.5" height="22.50" fill="#f23645" stroke="#5a3438" stroke-width="0.8"/>
<rect x="1099.57" y="306.75" width="1" height="63.25" fill="#4d5257"/>
<rect x="1097.82" y="331.25" width="4.5" height="38.25" fill="#f23645" stroke="#5a3438" stroke-width="0.8"/>
<rect x="1106.63" y="369.50" width="1" height="38.00" fill="#4d5257"/>
<rect x="1104.88" y="373.00" width="4.5" height="33.75" fill="#f23645" stroke="#5a3438" stroke-width="0.8"/>
<rect x="1113.69" y="400.75" width="1" height="48.75" fill="#4d5257"/>
<rect x="1111.94" y="409.25" width="4.5" height="29.50" fill="#f23645" stroke="#5a3438" stroke-width="0.8"/>
<rect x="1120.74" y="410.00" width="1" height="53.25" fill="#222"/>
<rect x="1118.24" y="436.15" width="6" height="1.2" fill="#222"/>
<rect x="1127.80" y="419.50" width="1" height="26.75" fill="#4d5257"/>
<rect x="1126.05" y="430.25" width="4.5" height="2.00" fill="#2f9c0a" stroke="#3c4a3a" stroke-width="0.8"/>
<rect x="1134.86" y="414.50" width="1" height="40.50" fill="#4d5257"/>
<rect x="1133.11" y="438.25" width="4.5" height="8.50" fill="#f23645" stroke="#5a3438" stroke-width="0.8"/>
<rect x="1141.91" y="400.00" width="1" height="47.50" fill="#4d5257"/>
<rect x="1140.16" y="401.75" width="4.5" height="41.50" fill="#2f9c0a" stroke="#3c4a3a" stroke-width="0.8"/>
<rect x="1148.97" y="388.25" width="1" height="68.00" fill="#4d5257"/>
<rect x="1147.22" y="407.50" width="4.5" height="48.00" fill="#f23645" stroke="#5a3438" stroke-width="0.8"/>
<rect x="1156.03" y="413.00" width="1" height="40.75" fill="#4d5257"/>
<rect x="1154.28" y="427.50" width="4.5" height="22.50" fill="#2f9c0a" stroke="#3c4a3a" stroke-width="0.8"/>
<path d="M9.00,464.33 C10.72,463.33 16.67,461.56 19.33,458.33 C22.00,455.11 22.39,451.18 25.00,445.00 C27.61,438.82 31.25,431.67 35.00,421.25 C38.75,410.83 43.33,396.04 47.50,382.50 C51.67,368.96 56.25,350.83 60.00,340.00 C63.75,329.17 67.71,324.00 70.00,317.50 C72.29,311.00 71.25,308.92 73.75,301.00 C76.25,293.08 80.62,280.58 85.00,270.00 C89.38,259.42 95.00,246.25 100.00,237.50 C105.00,228.75 109.58,224.17 115.00,217.50 C120.42,210.83 126.67,202.71 132.50,197.50 C138.33,192.29 145.17,188.96 150.00,186.25 C154.83,183.54 157.33,181.25 161.50,181.25 C165.67,181.25 170.25,183.75 175.00,186.25 C179.75,188.75 185.83,192.71 190.00,196.25 C194.17,199.79 196.25,201.88 200.00,207.50 C203.75,213.12 208.33,222.08 212.50,230.00 C216.67,237.92 220.83,246.67 225.00,255.00 C229.17,263.33 234.58,274.17 237.50,280.00 C240.42,285.83 240.42,286.25 242.50,290.00 C244.58,293.75 247.08,296.67 250.00,302.50 C252.92,308.33 256.67,318.33 260.00,325.00 C263.33,331.67 266.67,337.08 270.00,342.50 C273.33,347.92 277.08,354.58 280.00,357.50 C282.92,360.42 283.75,359.29 287.50,360.00 C291.25,360.71 298.75,362.17 302.50,361.75 C306.25,361.33 307.83,358.42 310.00,357.50 C312.17,356.58 314.25,356.25 315.50,356.25 C316.75,356.25 315.92,356.25 317.50,357.50 C319.08,358.75 321.67,358.33 325.00,363.75 C328.33,369.17 333.33,379.79 337.50,390.00 C341.67,400.21 347.00,415.00 350.00,425.00 C353.00,435.00 353.42,442.08 355.50,450.00 C357.58,457.92 360.08,465.00 362.50,472.50 C364.92,480.00 367.71,488.54 370.00,495.00 C372.29,501.46 374.17,505.83 376.25,511.25 C378.33,516.67 380.00,523.42 382.50,527.50 C385.00,531.58 388.12,533.75 391.25,535.75 C394.38,537.75 398.33,539.62 401.25,539.50 C404.17,539.38 406.46,536.92 408.75,535.00 C411.04,533.08 412.71,532.58 415.00,528.00 C417.29,523.42 420.00,513.83 422.50,507.50 C425.00,501.17 427.50,495.42 430.00,490.00 C432.50,484.58 434.58,481.67 437.50,475.00 C440.42,468.33 445.42,455.83 447.50,450.00 C449.58,444.17 447.92,446.67 450.00,440.00 C452.08,433.33 456.25,421.67 460.00,410.00 C463.75,398.33 468.75,380.83 472.50,370.00 C476.25,359.17 478.75,352.92 482.50,345.00 C486.25,337.08 490.42,328.96 495.00,322.50 C499.58,316.04 505.83,310.08 510.00,306.25 C514.17,302.42 516.67,300.75 520.00,299.50 C523.33,298.25 526.25,298.04 530.00,298.75 C533.75,299.46 537.92,302.29 542.50,303.75 C547.08,305.21 553.12,305.83 557.50,307.50 C561.88,309.17 565.42,310.42 568.75,313.75 C572.08,317.08 574.38,323.12 577.50,327.50 C580.62,331.88 584.17,336.88 587.50,340.00 C590.83,343.12 593.75,343.12 597.50,346.25 C601.25,349.38 606.25,355.00 610.00,358.75 C613.75,362.50 617.29,366.46 620.00,368.75 C622.71,371.04 623.75,372.71 626.25,372.50 C628.75,372.29 631.88,369.38 635.00,367.50 C638.12,365.62 641.25,362.08 645.00,361.25 C648.75,360.42 653.33,363.04 657.50,362.50 C661.67,361.96 666.25,358.21 670.00,358.00 C673.75,357.79 676.67,359.17 680.00,361.25 C683.33,363.33 686.67,368.00 690.00,370.50 C693.33,373.00 697.08,374.88 700.00,376.25 C702.92,377.62 705.00,376.67 707.50,378.75 C710.00,380.83 712.08,385.54 715.00,388.75 C717.92,391.96 721.67,395.38 725.00,398.00 C728.33,400.62 731.67,402.92 735.00,404.50 C738.33,406.08 741.67,406.17 745.00,407.50 C748.33,408.83 751.67,409.79 755.00,412.50 C758.33,415.21 761.67,421.17 765.00,423.75 C768.33,426.33 772.08,428.54 775.00,428.00 C777.92,427.46 779.17,421.92 782.50,420.50 C785.83,419.08 791.25,421.25 795.00,419.50 C798.75,417.75 801.67,414.92 805.00,410.00 C808.33,405.08 812.08,396.04 815.00,390.00 C817.92,383.96 820.00,377.71 822.50,373.75 C825.00,369.79 827.08,366.88 830.00,366.25 C832.92,365.62 836.67,368.33 840.00,370.00 C843.33,371.67 846.67,374.79 850.00,376.25 C853.33,377.71 856.67,377.29 860.00,378.75 C863.33,380.21 866.67,382.29 870.00,385.00 C873.33,387.71 877.08,392.83 880.00,395.00 C882.92,397.17 884.58,397.92 887.50,398.00 C890.42,398.08 894.17,395.17 897.50,395.50 C900.83,395.83 903.75,398.08 907.50,400.00 C911.25,401.92 916.25,405.67 920.00,407.00 C923.75,408.33 926.67,408.83 930.00,408.00 C933.33,407.17 936.67,403.54 940.00,402.00 C943.33,400.46 947.08,400.33 950.00,398.75 C952.92,397.17 955.00,396.46 957.50,392.50 C960.00,388.54 962.50,381.67 965.00,375.00 C967.50,368.33 970.00,359.58 972.50,352.50 C975.00,345.42 977.50,338.33 980.00,332.50 C982.50,326.67 984.17,322.92 987.50,317.50 C990.83,312.08 996.25,304.79 1000.00,300.00 C1003.75,295.21 1006.67,292.50 1010.00,288.75 C1013.33,285.00 1016.67,280.71 1020.00,277.50 C1023.33,274.29 1026.67,270.12 1030.00,269.50 C1033.33,268.88 1035.62,272.08 1040.00,273.75 C1044.38,275.42 1051.25,276.58 1056.25,279.50 C1061.25,282.42 1066.04,287.83 1070.00,291.25 C1073.96,294.67 1076.67,296.46 1080.00,300.00 C1083.33,303.54 1086.67,308.96 1090.00,312.50 C1093.33,316.04 1096.67,317.29 1100.00,321.25 C1103.33,325.21 1106.67,330.21 1110.00,336.25 C1113.33,342.29 1116.67,351.04 1120.00,357.50 C1123.33,363.96 1126.67,368.96 1130.00,375.00 C1133.33,381.04 1136.67,387.50 1140.00,393.75 C1143.33,400.00 1147.29,407.50 1150.00,412.50 C1152.71,417.50 1155.21,421.88 1156.25,423.75" fill="none" stroke="#ee3c50" stroke-width="1.55" stroke-linejoin="round"/>
<rect x="9.05" y="24.15" width="1274.1" height="628.55" fill="none" stroke="#ebedf3" stroke-width="1.7"/>
<text x="16.4" y="41" font-size="10.3" fill="#5a5e67" font-weight="normal" text-anchor="start" textLength="160.6" lengthAdjust="spacingAndGlyphs">Australia 200 Cash, 1D, EIGHTCAP</text>
<text x="184.2" y="41" font-size="10.3" fill="#5a5e67" font-weight="normal" text-anchor="start" textLength="78.8" lengthAdjust="spacingAndGlyphs">O - Aper.7102.25</text>
<text x="270.6" y="41" font-size="10.3" fill="#5a5e67" font-weight="normal" text-anchor="start" textLength="76.8" lengthAdjust="spacingAndGlyphs">H - Max.7163.25</text>
<text x="354.8" y="41" font-size="10.3" fill="#5a5e67" font-weight="normal" text-anchor="start" textLength="72.2" lengthAdjust="spacingAndGlyphs">L - Min.7096.25</text>
<text x="434" y="41" font-size="10.3" fill="#5a5e67" font-weight="normal" text-anchor="start" textLength="83" lengthAdjust="spacingAndGlyphs">C - Chius.7139.78</text>
<text x="524" y="41" font-size="10.3" fill="#5a5e67" font-weight="normal" text-anchor="start" textLength="75" lengthAdjust="spacingAndGlyphs">+46.38 (+0.65%)</text>
<text x="606.4" y="41" font-size="10.3" fill="#5a5e67" font-weight="normal" text-anchor="start" textLength="46" lengthAdjust="spacingAndGlyphs">Vol8.112K</text>
<text x="16.4" y="56" font-size="10.3" fill="#5a5e67" font-weight="normal" text-anchor="start" textLength="90" lengthAdjust="spacingAndGlyphs">BB (50, close, 2, 0)</text>
<text x="114" y="56" font-size="10.3" fill="#ffa726" font-weight="normal" text-anchor="start" textLength="36.5" lengthAdjust="spacingAndGlyphs">7255.07</text>
<text x="158.2" y="56" font-size="10.3" fill="#4a4aff" font-weight="normal" text-anchor="start" textLength="36.5" lengthAdjust="spacingAndGlyphs">7473.01</text>
<text x="202" y="56" font-size="10.3" fill="#4a4aff" font-weight="normal" text-anchor="start" textLength="36.5" lengthAdjust="spacingAndGlyphs">7037.14</text>
<text x="16.4" y="71" font-size="10.3" fill="#5a5e67" font-weight="normal" text-anchor="start" textLength="112.2" lengthAdjust="spacingAndGlyphs">MA (9, close, 0, SMA, 5)</text>
<text x="136.5" y="71" font-size="10.3" fill="#f23645" font-weight="normal" text-anchor="start" textLength="36.5" lengthAdjust="spacingAndGlyphs">7145.68</text>
<text y="130.7" font-size="21.4" fill="#111" stroke="#111" stroke-width="0.85"><tspan x="700.7" textLength="64.6" lengthAdjust="spacingAndGlyphs">INDICE</tspan> <tspan x="772.4" textLength="121.7" lengthAdjust="spacingAndGlyphs">AUSTRALIAN</tspan> <tspan x="902.6" textLength="72.4" lengthAdjust="spacingAndGlyphs">SPX200</tspan> <tspan x="983" textLength="55.8" lengthAdjust="spacingAndGlyphs">DAILY</tspan></text>
<text x="1237.8" y="85.1" font-size="10.8" fill="#4d525b" font-weight="normal" text-anchor="start" textLength="36.8" lengthAdjust="spacingAndGlyphs">7700.00</text>
<text x="1237.8" y="115.98" font-size="10.8" fill="#4d525b" font-weight="normal" text-anchor="start" textLength="36.8" lengthAdjust="spacingAndGlyphs">7650.00</text>
<text x="1237.8" y="146.86" font-size="10.8" fill="#4d525b" font-weight="normal" text-anchor="start" textLength="36.8" lengthAdjust="spacingAndGlyphs">7600.00</text>
<text x="1237.8" y="177.74" font-size="10.8" fill="#4d525b" font-weight="normal" text-anchor="start" textLength="36.8" lengthAdjust="spacingAndGlyphs">7550.00</text>
<text x="1237.8" y="208.62" font-size="10.8" fill="#4d525b" font-weight="normal" text-anchor="start" textLength="36.8" lengthAdjust="spacingAndGlyphs">7500.00</text>
<text x="1237.8" y="239.5" font-size="10.8" fill="#4d525b" font-weight="normal" text-anchor="start" textLength="36.8" lengthAdjust="spacingAndGlyphs">7450.00</text>
<text x="1237.8" y="270.38" font-size="10.8" fill="#4d525b" font-weight="normal" text-anchor="start" textLength="36.8" lengthAdjust="spacingAndGlyphs">7400.00</text>
<text x="1237.8" y="301.26" font-size="10.8" fill="#4d525b" font-weight="normal" text-anchor="start" textLength="36.8" lengthAdjust="spacingAndGlyphs">7350.00</text>
<text x="1237.8" y="332.14" font-size="10.8" fill="#4d525b" font-weight="normal" text-anchor="start" textLength="36.8" lengthAdjust="spacingAndGlyphs">7300.00</text>
<text x="1237.8" y="363.02" font-size="10.8" fill="#4d525b" font-weight="normal" text-anchor="start" textLength="36.8" lengthAdjust="spacingAndGlyphs">7250.00</text>
<text x="1237.8" y="393.9" font-size="10.8" fill="#4d525b" font-weight="normal" text-anchor="start" textLength="36.8" lengthAdjust="spacingAndGlyphs">7200.00</text>
<text x="1237.8" y="455.66" font-size="10.8" fill="#4d525b" font-weight="normal" text-anchor="start" textLength="36.8" lengthAdjust="spacingAndGlyphs">7100.00</text>
<text x="1237.8" y="486.54" font-size="10.8" fill="#4d525b" font-weight="normal" text-anchor="start" textLength="36.8" lengthAdjust="spacingAndGlyphs">7050.00</text>
<text x="1237.8" y="517.42" font-size="10.8" fill="#4d525b" font-weight="normal" text-anchor="start" textLength="36.8" lengthAdjust="spacingAndGlyphs">7000.00</text>
<text x="1237.8" y="548.3" font-size="10.8" fill="#4d525b" font-weight="normal" text-anchor="start" textLength="36.8" lengthAdjust="spacingAndGlyphs">6950.00</text>
<text x="1237.8" y="579.18" font-size="10.8" fill="#4d525b" font-weight="normal" text-anchor="start" textLength="36.8" lengthAdjust="spacingAndGlyphs">6900.00</text>
<text x="1237.8" y="610.06" font-size="10.8" fill="#4d525b" font-weight="normal" text-anchor="start" textLength="36.8" lengthAdjust="spacingAndGlyphs">6850.00</text>
<text x="1237.8" y="54.22" font-size="10.8" fill="#4d525b" font-weight="normal" text-anchor="start" textLength="36.8" lengthAdjust="spacingAndGlyphs">7750.00</text>
<rect x="1233.5" y="27.5" width="46.5" height="21" rx="3" fill="#fff" stroke="#e4e6ef" stroke-width="1"/>
<text x="1241.6" y="42.8" font-size="10.5" fill="#4d525b" font-weight="normal" text-anchor="start" textLength="20.2" lengthAdjust="spacingAndGlyphs">AUD</text>
<rect x="1182" y="133.70" width="98" height="15" rx="1.3" fill="#e3effd"/>
<text x="1186.0" y="144.8" font-size="10.8" fill="#4d525b" font-weight="normal" text-anchor="start" textLength="38.6" lengthAdjust="spacingAndGlyphs">Massimo</text>
<text x="1237.8" y="144.8" font-size="10.8" fill="#4d525b" font-weight="normal" text-anchor="start" textLength="36.8" lengthAdjust="spacingAndGlyphs">7603.27</text>
<rect x="1188" y="613.20" width="92" height="15" rx="1.3" fill="#e3effd"/>
<text x="1190.6" y="624.3" font-size="10.8" fill="#4d525b" font-weight="normal" text-anchor="start" textLength="34" lengthAdjust="spacingAndGlyphs">Minimo</text>
<text x="1237.8" y="624.3" font-size="10.8" fill="#4d525b" font-weight="normal" text-anchor="start" textLength="36.8" lengthAdjust="spacingAndGlyphs">6825.79</text>
<rect x="1177" y="214.25" width="103" height="14.5" rx="1.3" fill="#2b2bff"/>
<text x="1180.8" y="225.1" font-size="10.8" fill="#fff" font-weight="bold" text-anchor="start" textLength="43.8" lengthAdjust="spacingAndGlyphs">BB:Upper</text>
<text x="1237.8" y="225.1" font-size="10.8" fill="#fff" font-weight="bold" text-anchor="start" textLength="36.8" lengthAdjust="spacingAndGlyphs">7473.01</text>
<rect x="1182" y="349.05" width="98" height="14.5" rx="1.3" fill="#ffb000"/>
<text x="1186.6" y="359.9" font-size="10.8" fill="#4a3500" font-weight="normal" text-anchor="start" textLength="38" lengthAdjust="spacingAndGlyphs">BB:Basis</text>
<text x="1237.8" y="359.9" font-size="10.8" fill="#4a3500" font-weight="normal" text-anchor="start" textLength="36.8" lengthAdjust="spacingAndGlyphs">7255.07</text>
<rect x="1208" y="404.95" width="72" height="14.9" rx="1.3" fill="#f23645"/>
<text x="1210.8" y="416.0" font-size="10.8" fill="#fff" font-weight="bold" text-anchor="start" textLength="13.8" lengthAdjust="spacingAndGlyphs">MA</text>
<text x="1237.8" y="416.0" font-size="10.8" fill="#fff" font-weight="bold" text-anchor="start" textLength="36.8" lengthAdjust="spacingAndGlyphs">7145.68</text>
<rect x="1187.5" y="420.20" width="92.5" height="14.9" rx="1.3" fill="#2f9c0a"/>
<text x="1190.8" y="431.25" font-size="10.8" fill="#fff" font-weight="bold" text-anchor="start" textLength="33.8" lengthAdjust="spacingAndGlyphs">ASX200</text>
<text x="1237.8" y="431.25" font-size="10.8" fill="#fff" font-weight="bold" text-anchor="start" textLength="36.8" lengthAdjust="spacingAndGlyphs">7139.78</text>
<rect x="1177" y="483.45" width="103" height="14.5" rx="1.3" fill="#2b2bff"/>
<text x="1180.3" y="494.3" font-size="10.8" fill="#fff" font-weight="bold" text-anchor="start" textLength="44.3" lengthAdjust="spacingAndGlyphs">BB:Lower</text>
<text x="1237.8" y="494.3" font-size="10.8" fill="#fff" font-weight="bold" text-anchor="start" textLength="36.8" lengthAdjust="spacingAndGlyphs">7037.14</text>
<text x="133.3" y="644" font-size="10.5" fill="#4d525b" stroke="#4d525b" stroke-width="0.25" text-anchor="middle">Feb</text>
<text x="274.44" y="644" font-size="10.5" fill="#4d525b" stroke="#4d525b" stroke-width="0.25" text-anchor="middle">Mar</text>
<text x="352.06" y="644" font-size="10.5" fill="#4d525b" text-anchor="middle">16</text>
<text x="436.74" y="644" font-size="10.5" fill="#4d525b" stroke="#4d525b" stroke-width="0.25" text-anchor="middle">Apr</text>
<text x="563.76" y="644" font-size="10.5" fill="#4d525b" stroke="#4d525b" stroke-width="0.25" text-anchor="middle">Mag</text>
<text x="641.39" y="644" font-size="10.5" fill="#4d525b" text-anchor="middle">16</text>
<text x="726.07" y="644" font-size="10.5" fill="#4d525b" stroke="#4d525b" stroke-width="0.25" text-anchor="middle">Giu</text>
<text x="803.69" y="644" font-size="10.5" fill="#4d525b" text-anchor="middle">16</text>
<text x="881.31" y="644" font-size="10.5" fill="#4d525b" stroke="#4d525b" stroke-width="0.25" text-anchor="middle">Lug</text>
<text x="1029.5" y="644" font-size="10.5" fill="#4d525b" stroke="#4d525b" stroke-width="0.25" text-anchor="middle">Ago</text>
<text x="1107.13" y="644" font-size="10.5" fill="#4d525b" text-anchor="middle">16</text>
<text x="1191.81" y="644" font-size="10.5" fill="#4d525b" stroke="#4d525b" stroke-width="0.25" text-anchor="middle">Set</text>
<g fill="#1e222d"><path d="M8.8 663.3h6.9v8.4h-4v-4.8H8.8z"/><circle cx="18" cy="665" r="1.5"/><path d="M21.1 663.3H25.9L22.8 671.7H18.5z"/></g>
<text x="29.8" y="672.6" font-size="11.3" fill="#5a5e68" font-weight="normal" text-anchor="start" textLength="62" lengthAdjust="spacingAndGlyphs">TradingView</text>
</svg>
</body></html>
